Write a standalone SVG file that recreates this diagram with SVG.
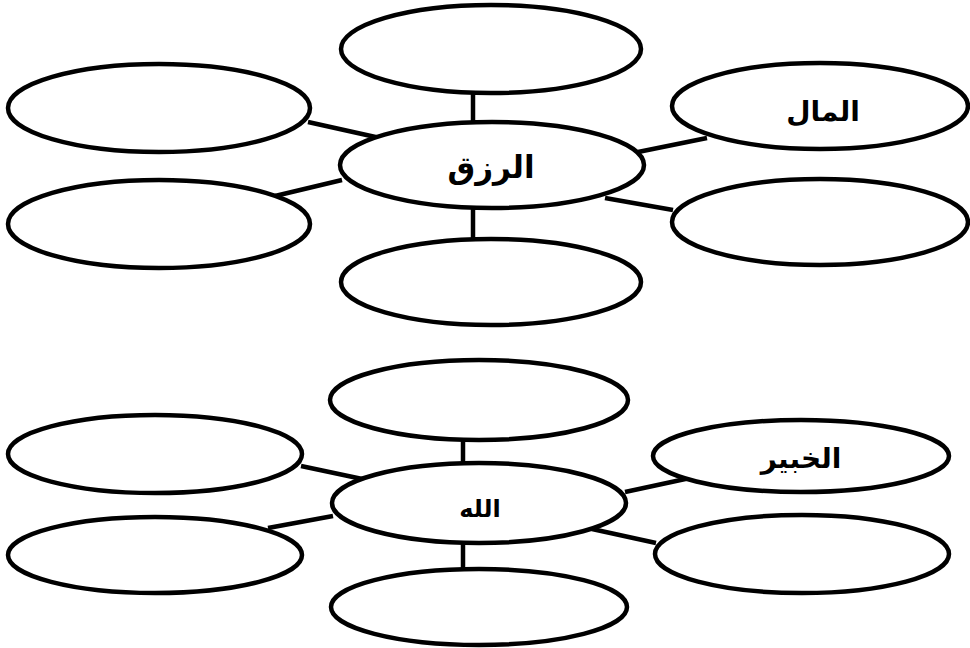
<svg xmlns="http://www.w3.org/2000/svg" width="970" height="648" viewBox="0 0 970 648">
<style>
.n{fill:#fff;stroke:#000;stroke-width:4.5}
.c line{stroke:#000;stroke-width:4.5}
.t{font-family:"Liberation Sans","DejaVu Sans",sans-serif;font-weight:bold;fill:#000;text-anchor:middle}
</style>
<defs><clipPath id="clipK"><rect x="700" y="420" width="200" height="55"/></clipPath></defs>
<rect width="970" height="648" fill="#fff"/>
<g class="c">
<line x1="473" y1="92" x2="473" y2="123"/>
<line x1="473" y1="207" x2="473" y2="239"/>
<line x1="308" y1="122" x2="380" y2="138"/>
<line x1="275" y1="196" x2="342" y2="180"/>
<line x1="638" y1="152" x2="707" y2="138"/>
<line x1="605" y1="198" x2="673" y2="210"/>
<line x1="463" y1="440" x2="463" y2="466"/>
<line x1="463" y1="542" x2="463" y2="570"/>
<line x1="301" y1="466" x2="367" y2="480"/>
<line x1="268" y1="528" x2="333" y2="516"/>
<line x1="625" y1="492" x2="690" y2="478"/>
<line x1="592" y1="529" x2="656" y2="543"/>
</g>
<g id="n1"><ellipse class="n" cx="491" cy="49" rx="150" ry="44"/></g>
<g id="n2"><ellipse class="n" cx="159" cy="108" rx="151" ry="44"/></g>
<g id="n3"><ellipse class="n" cx="159" cy="224" rx="151" ry="44"/></g>
<g id="n4"><ellipse class="n" cx="492" cy="165" rx="152" ry="43"/><text class="t" x="491" y="178" font-size="31">الرزق</text></g>
<g id="n5"><ellipse class="n" cx="820" cy="106" rx="148" ry="43"/><text class="t" x="823" y="121" font-size="28">المال</text></g>
<g id="n6"><ellipse class="n" cx="820" cy="222" rx="148" ry="43"/></g>
<g id="n7"><ellipse class="n" cx="491" cy="282" rx="150" ry="43"/></g>
<g id="m1"><ellipse class="n" cx="479" cy="400" rx="149" ry="40"/></g>
<g id="m2"><ellipse class="n" cx="155" cy="454" rx="147" ry="39"/></g>
<g id="m3"><ellipse class="n" cx="155" cy="555" rx="147" ry="38"/></g>
<g id="m4"><ellipse class="n" cx="479" cy="503" rx="147" ry="40"/><text class="t" x="480" y="517" font-size="24">الله</text></g>
<g id="m5"><ellipse class="n" cx="801" cy="456" rx="148" ry="36"/><text class="t" x="801" y="468" font-size="28" clip-path="url(#clipK)">الخبير</text></g>
<g id="m6"><ellipse class="n" cx="802" cy="554" rx="147" ry="39"/></g>
<g id="m7"><ellipse class="n" cx="479" cy="607" rx="148" ry="38"/></g>
</svg>
